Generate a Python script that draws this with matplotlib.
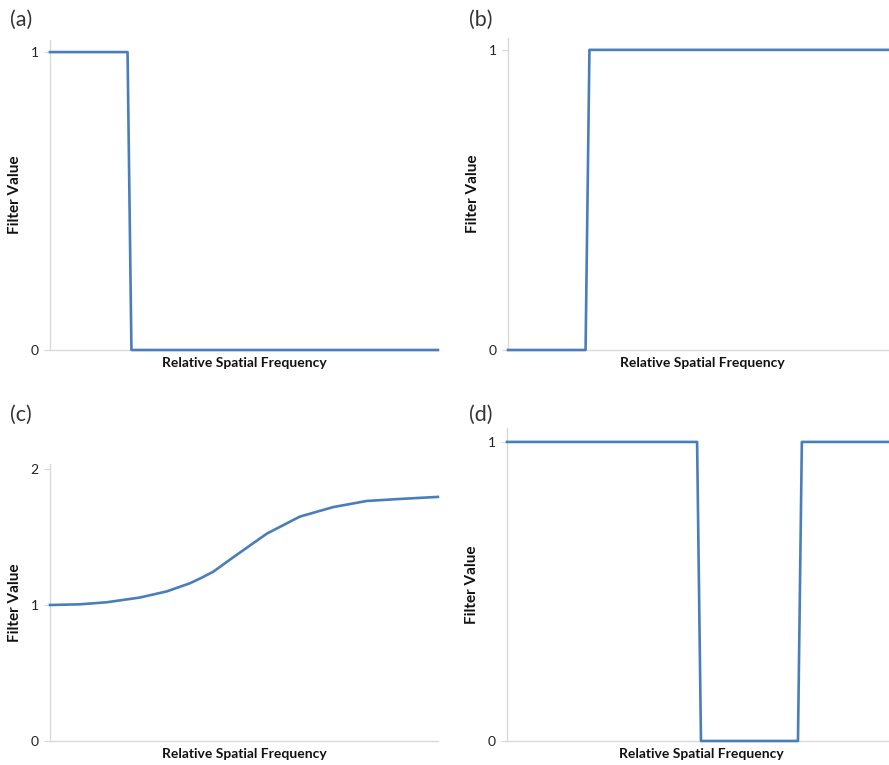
import matplotlib
matplotlib.use("Agg")
import matplotlib.pyplot as plt

plt.rcParams['font.family'] = ['Lato', 'DejaVu Sans']

# Filter shapes, x in percent of the frequency range
lowpass_x = [0, 20, 21, 100]
lowpass_y = [1, 1, 0, 0]

highpass_x = [0, 20, 21, 100]
highpass_y = [0, 0, 1, 1]

boost_x = [0, 7.7, 14.6, 23.2, 30.1, 36.1, 38.7, 42.1, 47.2, 55.9, 64.4, 73.0, 81.6, 90.2, 100]
boost_y = [1.0, 1.005, 1.02, 1.055, 1.10, 1.16, 1.195, 1.245, 1.35, 1.525, 1.65, 1.72, 1.765, 1.78, 1.795]

notch_x = [0, 49, 50, 75, 76, 100]
notch_y = [1, 1, 0, 0, 1, 1]

panels = [
    ("(a)", lowpass_x, lowpass_y, [0, 1], 1.04, [0.0562, 0.5425, 0.4364, 0.405]),
    ("(b)", highpass_x, highpass_y, [0, 1], 1.04, [0.5714, 0.5425, 0.4364, 0.408]),
    ("(c)", boost_x, boost_y, [0, 1, 2], 2.04, [0.0562, 0.0314, 0.4364, 0.3626]),
    ("(d)", notch_x, notch_y, [0, 1], 1.045, [0.5703, 0.0314, 0.4364, 0.4085]),
]
letter_pos = [(0.011, 0.974), (0.528, 0.974), (0.011, 0.458), (0.528, 0.458)]

line_color = "#4a7ebb"
axis_color = "#d9d9d9"

fig = plt.figure(figsize=(8.89, 7.65), dpi=100)

for (letter, x, y, yticks, ytop, rect), (lx, ly) in zip(panels, letter_pos):
    ax = fig.add_axes(rect)
    ax.plot(x, y, color=line_color, lw=1.9, solid_joinstyle="round",
            clip_on=False, zorder=3)
    ax.set_xlim(0, 100)
    ax.set_ylim(0, ytop)
    ax.set_yticks(yticks)
    ax.set_xticks([])
    for side in ["top", "right"]:
        ax.spines[side].set_visible(False)
    for side in ["left", "bottom"]:
        ax.spines[side].set_color(axis_color)
        ax.spines[side].set_linewidth(1.0)
    ax.tick_params(axis="y", length=4, color=axis_color, pad=4,
                   labelsize=10, labelcolor="#222222")
    ax.set_ylabel("Filter Value", fontsize=11, fontweight="bold", color="#111111")
    ax.yaxis.set_label_coords(-0.072, 0.5)
    ax.set_xlabel("Relative Spatial Frequency", fontsize=10, fontweight="bold",
                  color="#111111", labelpad=5)
    fig.text(lx, ly, letter, fontsize=15.5, color="#333333", ha="left", va="center")

fig.savefig("out.png", dpi=100)
